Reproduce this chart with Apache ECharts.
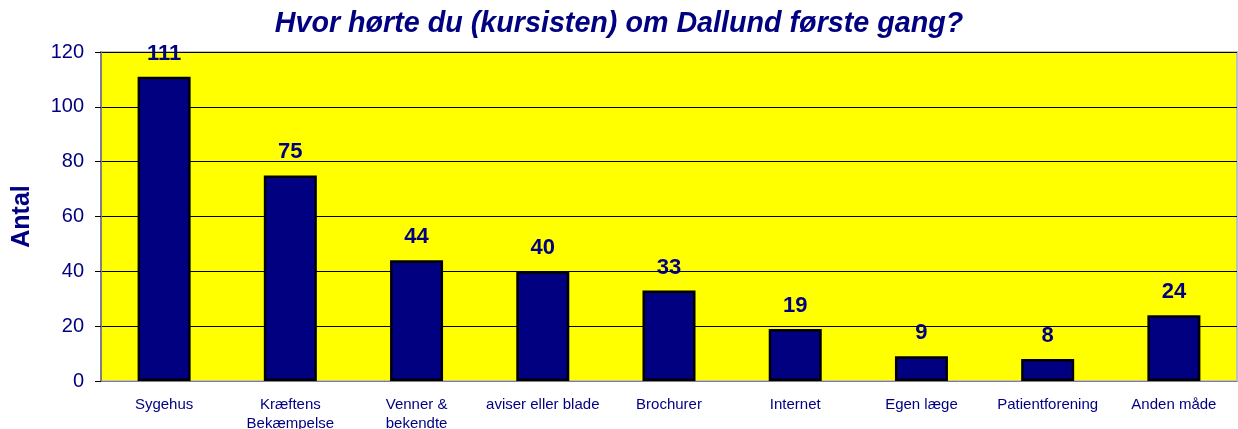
<!DOCTYPE html>
<html>
    <head>
        <meta charset="utf-8">
        <script src="https://cdn.jsdelivr.net/npm/echarts@6/dist/echarts.min.js"></script>
    </head>
    <body>
        <style>
            html, body {
                margin: 0;
                background: #fff;
                overflow: hidden;
            }
            #main {
                width: 1238px;
                height: 429px;
            }
        </style>
        <div id="main"></div>
        <script>

            var categories = [
                'Sygehus',
                'Kræftens\nBekæmpelse',
                'Venner &\nbekendte',
                'aviser eller blade',
                'Brochurer',
                'Internet',
                'Egen læge',
                'Patientforening',
                'Anden måde'
            ];
            var antal = [111, 75, 44, 40, 33, 19, 9, 8, 24];

            var navy = '#000080';

            var chart = echarts.init(document.getElementById('main'));

            chart.setOption({
                animation: false,
                title: {
                    text: 'Hvor hørte du (kursisten) om Dallund første gang?',
                    left: 'center',
                    top: 5,
                    textStyle: {
                        color: navy,
                        fontFamily: 'Liberation Sans',
                        fontStyle: 'italic',
                        fontWeight: 'bold',
                        fontSize: 28.7
                    }
                },
                grid: {
                    left: 101,
                    right: 1,
                    top: 52,
                    bottom: 48,
                    outerBoundsMode: 'none',
                    containLabel: false,
                    show: true,
                    backgroundColor: '#ffff00',
                    borderColor: '#c0c0c0',
                    borderWidth: 2
                },
                xAxis: {
                    type: 'category',
                    data: categories,
                    axisLine: { lineStyle: { color: '#808080', width: 1 } },
                    axisTick: { length: 6, lineStyle: { color: '#000' } },
                    axisLabel: {
                        color: navy,
                        fontFamily: 'Liberation Sans',
                        fontSize: 15,
                        lineHeight: 19,
                        margin: 14,
                        interval: 0
                    }
                },
                yAxis: {
                    type: 'value',
                    min: 0,
                    max: 120,
                    interval: 20,
                    name: 'Antal',
                    nameLocation: 'middle',
                    nameGap: 66,
                    nameTextStyle: {
                        color: navy,
                        fontFamily: 'Liberation Sans',
                        fontWeight: 'bold',
                        fontSize: 25
                    },
                    axisLine: { show: true, lineStyle: { color: '#808080', width: 2 } },
                    axisTick: { show: true, length: 6, lineStyle: { color: '#000' } },
                    axisLabel: {
                        color: navy,
                        fontFamily: 'Liberation Sans',
                        fontSize: 20,
                        margin: 17
                    },
                    splitLine: { lineStyle: { color: '#000', width: 1 } }
                },
                series: [{
                    type: 'bar',
                    data: antal,
                    barWidth: '42%',
                    itemStyle: {
                        color: navy,
                        borderColor: '#000',
                        borderWidth: 2.5
                    },
                    label: {
                        show: true,
                        position: 'top',
                        distance: 12,
                        color: navy,
                        fontFamily: 'Liberation Sans',
                        fontWeight: 'bold',
                        fontSize: 22
                    }
                }]
            });

        </script>
    </body>
</html>
